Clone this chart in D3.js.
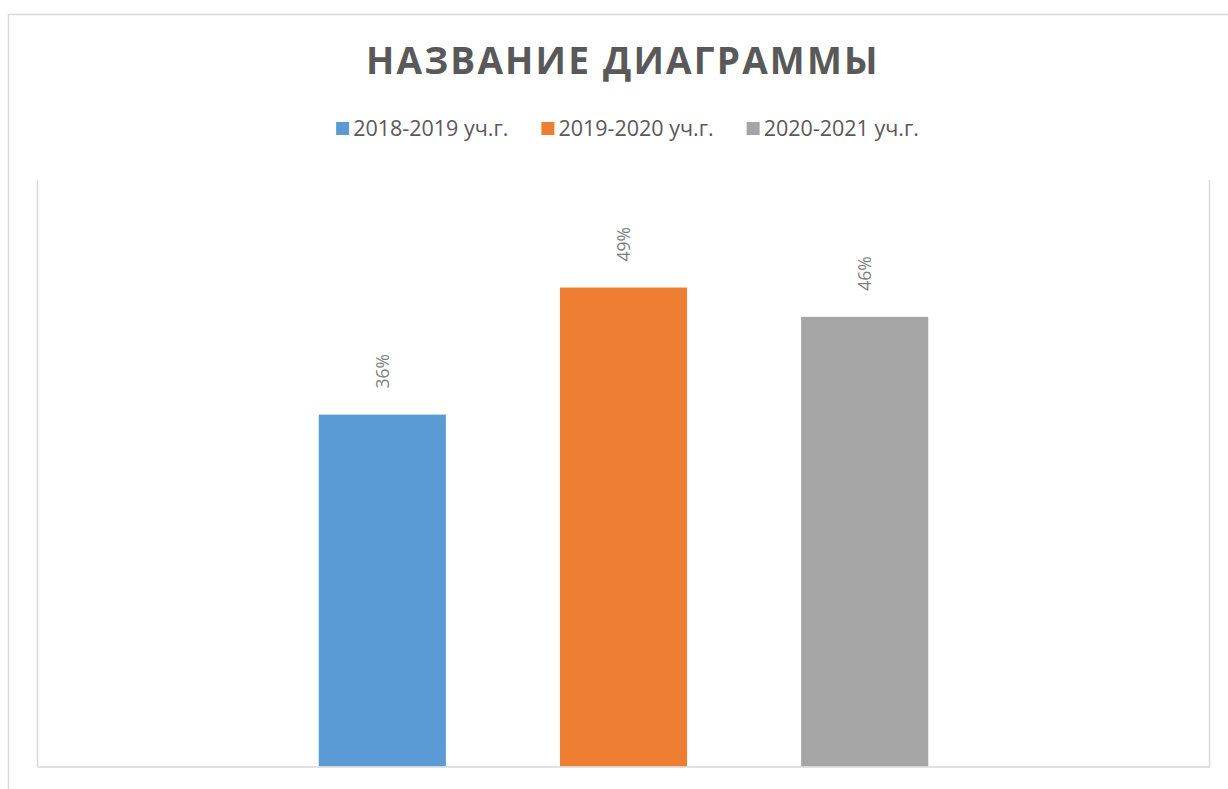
<!DOCTYPE html>
<html>
<head>
<meta charset="utf-8">
<script src="https://cdn.jsdelivr.net/npm/d3@7"></script>
<style>
  html, body { margin: 0; padding: 0; background: #ffffff; }
  svg { display: block; }
</style>
</head>
<body>
<svg id="chart" width="1228" height="789"></svg>
<script>
const title = "НАЗВАНИЕ ДИАГРАММЫ";
const categories = ["1"];
const seriesNames = ["2018-2019 уч.г.", "2019-2020 уч.г.", "2020-2021 уч.г."];
const seriesValues = [0.36, 0.49, 0.46];
const seriesColors = ["#5b9bd5", "#ed7d31", "#a5a5a5"];
const yDomain = [0, 0.6];

const svg = d3.select("#chart");
const plot = { left: 37.5, right: 1209.5, top: 180, bottom: 766.5 };

// outer chart border
svg.append("rect")
  .attr("x", 8.5).attr("y", 14.5)
  .attr("width", 1240).attr("height", 800)
  .attr("fill", "#ffffff").attr("stroke", "#d9d9d9").attr("stroke-width", 1.5);

// title
const fontFamily = "'Open Sans', 'Noto Sans', sans-serif";
svg.append("text")
  .attr("x", 623.5).attr("y", 74)
  .attr("text-anchor", "middle")
  .attr("font-family", fontFamily)
  .attr("font-weight", "bold")
  .attr("font-size", 37)
  .attr("letter-spacing", "3.5px")
  .attr("fill", "#595959")
  .attr("textLength", 515)
  .attr("lengthAdjust", "spacing")
  .text(title);

// scales
const x0 = d3.scaleBand().domain(categories).range([plot.left, plot.right]).paddingInner(0).paddingOuter(0.4614);
const x1 = d3.scaleBand().domain(seriesNames).range([0, x0.bandwidth()]).paddingInner(0.473).paddingOuter(0);
const y = d3.scaleLinear().domain(yDomain).range([plot.bottom, plot.top]);

// plot area border (left, right, bottom)
const borderColor = "#d9d9d9";
svg.append("line").attr("x1", plot.left).attr("x2", plot.left).attr("y1", plot.top).attr("y2", plot.bottom)
  .attr("stroke", borderColor).attr("stroke-width", 1.5);
svg.append("line").attr("x1", plot.right).attr("x2", plot.right).attr("y1", plot.top).attr("y2", plot.bottom)
  .attr("stroke", borderColor).attr("stroke-width", 1.5);

// bars
const data = seriesNames.map((s, i) => ({ series: s, value: seriesValues[i], color: seriesColors[i], cat: categories[0] }));
const g = svg.append("g");
g.selectAll("rect.bar").data(data).join("rect")
  .attr("class", "bar")
  .attr("x", d => x0(d.cat) + x1(d.series))
  .attr("y", d => y(d.value))
  .attr("width", x1.bandwidth())
  .attr("height", d => y(0) - y(d.value))
  .attr("fill", d => d.color);

// bottom axis line
svg.append("line").attr("x1", plot.left).attr("x2", plot.right + 0.75).attr("y1", plot.bottom + 0.5).attr("y2", plot.bottom + 0.5)
  .attr("stroke", borderColor).attr("stroke-width", 1.5);

// data labels (rotated)
const fmt = d3.format(".0%");
g.selectAll("text.lbl").data(data).join("text")
  .attr("class", "lbl")
  .attr("transform", d => `translate(${x0(d.cat) + x1(d.series) + x1.bandwidth() / 2 + 6.5},${y(d.value) - 26}) rotate(-90)`)
  .attr("text-anchor", "start")
  .attr("font-family", fontFamily)
  .attr("font-size", 17.5)
  .attr("fill", "#7f7f7f")
  .text(d => fmt(d.value));

// legend
const legend = svg.append("g").attr("font-family", fontFamily).attr("font-size", 21.5).attr("fill", "#595959");
const sq = 13, gapSqText = 4, gapItems = 33;
const items = legend.selectAll("g.item").data(data).join("g").attr("class", "item");
items.append("rect").attr("width", sq).attr("height", sq).attr("y", 122).attr("fill", d => d.color);
items.append("text").attr("x", sq + gapSqText).attr("y", 135.5).text(d => d.series);
const widths = [];
items.each(function() { widths.push(sq + gapSqText + d3.select(this).select("text").node().getComputedTextLength()); });
const total = d3.sum(widths) + gapItems * (widths.length - 1);
let cx = 627.5 - total / 2;
items.attr("transform", (d, i) => { const t = `translate(${cx},0)`; cx += widths[i] + gapItems; return t; });
</script>
</body>
</html>
